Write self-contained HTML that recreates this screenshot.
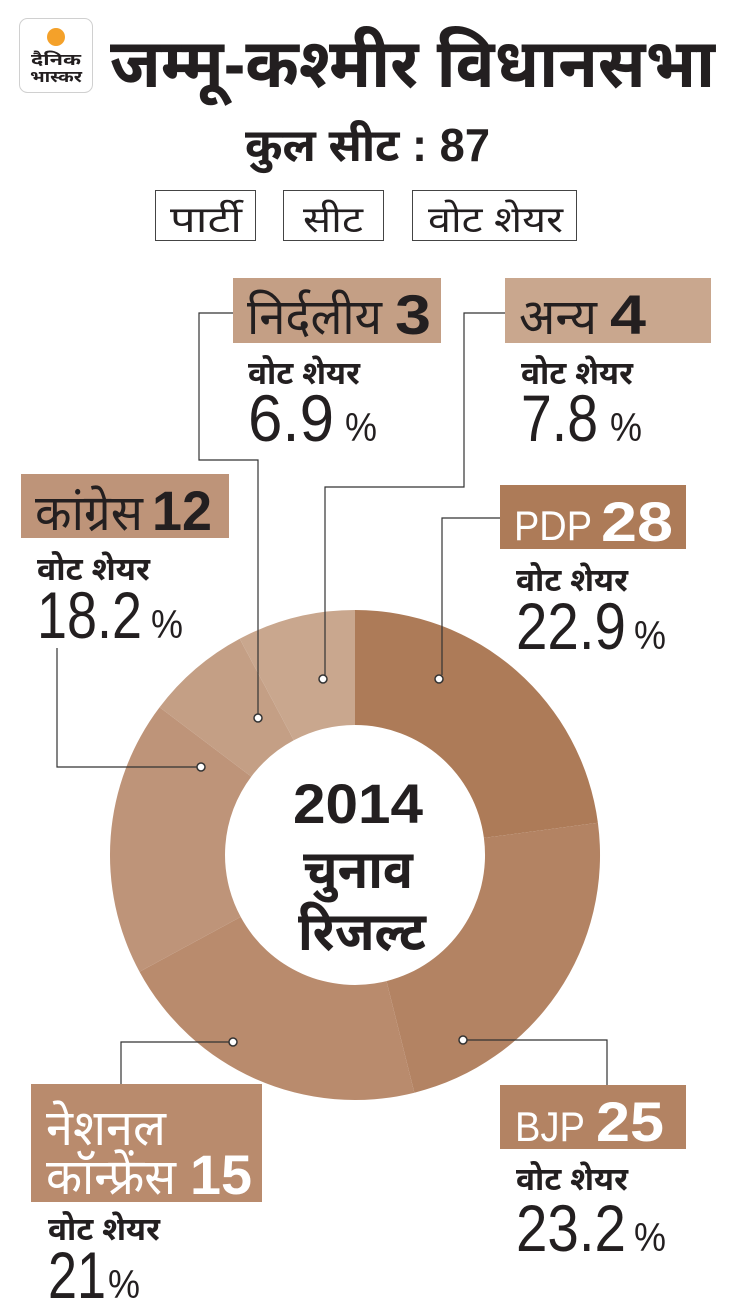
<!DOCTYPE html>
<html><head><meta charset="utf-8">
<style>
html,body{margin:0;padding:0;background:#fff;}
svg{display:block;}
text{font-family:"Liberation Sans","Noto Sans Devanagari","Lohit Devanagari",sans-serif;fill:#231f20;}
.b{font-weight:bold;}
</style></head>
<body>
<svg width="730" height="1316" viewBox="0 0 730 1316" xmlns="http://www.w3.org/2000/svg">
<rect x="19.5" y="18.5" width="73" height="74" rx="8" fill="#fff" stroke="#d0d0d0"/>
<circle cx="56" cy="37" r="9" fill="#f4a12a"/>
<text x="56" y="65" font-size="16" class="b" text-anchor="middle" textLength="50" lengthAdjust="spacingAndGlyphs">दैनिक</text>
<text x="56" y="82" font-size="16" class="b" text-anchor="middle" textLength="52" lengthAdjust="spacingAndGlyphs">भास्कर</text>
<text x="110" y="87" font-size="68" class="b" textLength="605" lengthAdjust="spacingAndGlyphs">जम्मू-कश्मीर विधानसभा</text>
<text x="245" y="161" font-size="46" class="b" textLength="245" lengthAdjust="spacingAndGlyphs">कुल सीट : 87</text>
<rect x="155.5" y="190.5" width="100" height="50" fill="#fff" stroke="#444"/>
<text x="170" y="232" font-size="36" textLength="72" lengthAdjust="spacingAndGlyphs">पार्टी</text>
<rect x="283.5" y="190.5" width="100" height="50" fill="#fff" stroke="#444"/>
<text x="303" y="232" font-size="36" textLength="60" lengthAdjust="spacingAndGlyphs">सीट</text>
<rect x="412.5" y="190.5" width="164" height="50" fill="#fff" stroke="#444"/>
<text x="428" y="232" font-size="36" textLength="135" lengthAdjust="spacingAndGlyphs">वोट शेयर</text>

<path d="M355,610 A245,245 0 0 1 597.9,822.8 L483.9,837.9 A130,130 0 0 0 355,725 Z" fill="#ad7b58"/>
<path d="M597.9,822.8 A245,245 0 0 1 414.4,1092.7 L386.5,981.1 A130,130 0 0 0 483.9,837.9 Z" fill="#b38363"/>
<path d="M414.4,1092.7 A245,245 0 0 1 139.5,971.7 L240.7,916.9 A130,130 0 0 0 386.5,981.1 Z" fill="#b98b6d"/>
<path d="M139.5,971.7 A245,245 0 0 1 159.6,707.3 L251.3,776.6 A130,130 0 0 0 240.7,916.9 Z" fill="#be9479"/>
<path d="M159.6,707.3 A245,245 0 0 1 239.7,638.8 L293.8,740.3 A130,130 0 0 0 251.3,776.6 Z" fill="#c49f85"/>
<path d="M239.7,638.8 A245,245 0 0 1 355,610 L355,725 A130,130 0 0 0 293.8,740.3 Z" fill="#c9a78e"/>

<text x="358" y="823" font-size="56" class="b" text-anchor="middle" textLength="130" lengthAdjust="spacingAndGlyphs">2014</text>
<text x="358" y="888" font-size="54" class="b" text-anchor="middle" textLength="110" lengthAdjust="spacingAndGlyphs">चुनाव</text>
<text x="362" y="950" font-size="54" class="b" text-anchor="middle" textLength="128" lengthAdjust="spacingAndGlyphs">रिजल्ट</text>

<g fill="none" stroke="#333" stroke-width="1.2">
<polyline points="233,313 199,313 199,460 258,460 258,714"/>
<polyline points="505,313 464,313 464,487 325,487 325,675"/>
<polyline points="500,518 442,518 442,675"/>
<polyline points="57,648 57,767 197,767"/>
<polyline points="229,1042 121,1042 121,1084"/>
<polyline points="467,1040 607,1040 607,1085"/>
</g>
<g fill="#fff" stroke="#333" stroke-width="1.5">
<circle cx="258" cy="718" r="4"/>
<circle cx="323" cy="679" r="4"/>
<circle cx="439" cy="679" r="4"/>
<circle cx="201" cy="767" r="4"/>
<circle cx="233" cy="1042" r="4"/>
<circle cx="463" cy="1040" r="4"/>
</g>

<rect x="233" y="278" width="208" height="65" fill="#c49f85"/>
<text x="247" y="334" font-size="50" textLength="135" lengthAdjust="spacingAndGlyphs">निर्दलीय</text>
<text x="395" y="334" font-size="56" class="b" textLength="36" lengthAdjust="spacingAndGlyphs">3</text>
<text x="248" y="384" font-size="32" class="b" textLength="112" lengthAdjust="spacingAndGlyphs">वोट शेयर</text>
<text x="248" y="441" font-size="66" textLength="86" lengthAdjust="spacingAndGlyphs">6.9</text>
<text x="345" y="441" font-size="40" textLength="32" lengthAdjust="spacingAndGlyphs">%</text>

<rect x="505" y="278" width="206" height="65" fill="#c9a78e"/>
<text x="519" y="334" font-size="50" textLength="78" lengthAdjust="spacingAndGlyphs">अन्य</text>
<text x="610" y="334" font-size="56" class="b" textLength="36" lengthAdjust="spacingAndGlyphs">4</text>
<text x="521" y="384" font-size="32" class="b" textLength="112" lengthAdjust="spacingAndGlyphs">वोट शेयर</text>
<text x="521" y="441" font-size="66" textLength="77" lengthAdjust="spacingAndGlyphs">7.8</text>
<text x="610" y="441" font-size="40" textLength="32" lengthAdjust="spacingAndGlyphs">%</text>

<rect x="21" y="474" width="208" height="64" fill="#be9479"/>
<text x="35" y="530" font-size="50" textLength="108" lengthAdjust="spacingAndGlyphs">कांग्रेस</text>
<text x="152" y="530" font-size="56" class="b" textLength="60" lengthAdjust="spacingAndGlyphs">12</text>
<text x="37" y="580" font-size="32" class="b" textLength="113" lengthAdjust="spacingAndGlyphs">वोट शेयर</text>
<text x="37" y="638" font-size="66" textLength="105" lengthAdjust="spacingAndGlyphs">18.2</text>
<text x="151" y="638" font-size="40" textLength="32" lengthAdjust="spacingAndGlyphs">%</text>

<rect x="500" y="485" width="186" height="64" fill="#ad7b58"/>
<text x="514" y="540" font-size="42" style="fill:#fff" textLength="78" lengthAdjust="spacingAndGlyphs">PDP</text>
<text x="601" y="541" font-size="56" class="b" style="fill:#fff" textLength="72" lengthAdjust="spacingAndGlyphs">28</text>
<text x="516" y="591" font-size="32" class="b" textLength="112" lengthAdjust="spacingAndGlyphs">वोट शेयर</text>
<text x="516" y="649" font-size="66" textLength="110" lengthAdjust="spacingAndGlyphs">22.9</text>
<text x="634" y="649" font-size="40" textLength="32" lengthAdjust="spacingAndGlyphs">%</text>

<rect x="31" y="1084" width="231" height="118" fill="#b98b6d"/>
<text x="46" y="1145" font-size="50" style="fill:#fff" textLength="120" lengthAdjust="spacingAndGlyphs">नेशनल</text>
<text x="46" y="1194" font-size="50" style="fill:#fff" textLength="130" lengthAdjust="spacingAndGlyphs">कॉन्फ्रेंस</text>
<text x="190" y="1194" font-size="56" class="b" style="fill:#fff" textLength="62" lengthAdjust="spacingAndGlyphs">15</text>
<text x="48" y="1240" font-size="32" class="b" textLength="112" lengthAdjust="spacingAndGlyphs">वोट शेयर</text>
<text x="48" y="1298" font-size="66" textLength="58" lengthAdjust="spacingAndGlyphs">21</text>
<text x="108" y="1298" font-size="40" textLength="32" lengthAdjust="spacingAndGlyphs">%</text>

<rect x="500" y="1085" width="186" height="64" fill="#b38363"/>
<text x="515" y="1141" font-size="42" style="fill:#fff" textLength="70" lengthAdjust="spacingAndGlyphs">BJP</text>
<text x="596" y="1141" font-size="56" class="b" style="fill:#fff" textLength="68" lengthAdjust="spacingAndGlyphs">25</text>
<text x="516" y="1190" font-size="32" class="b" textLength="112" lengthAdjust="spacingAndGlyphs">वोट शेयर</text>
<text x="516" y="1251" font-size="66" textLength="110" lengthAdjust="spacingAndGlyphs">23.2</text>
<text x="634" y="1251" font-size="40" textLength="32" lengthAdjust="spacingAndGlyphs">%</text>
</svg>
</body></html>
